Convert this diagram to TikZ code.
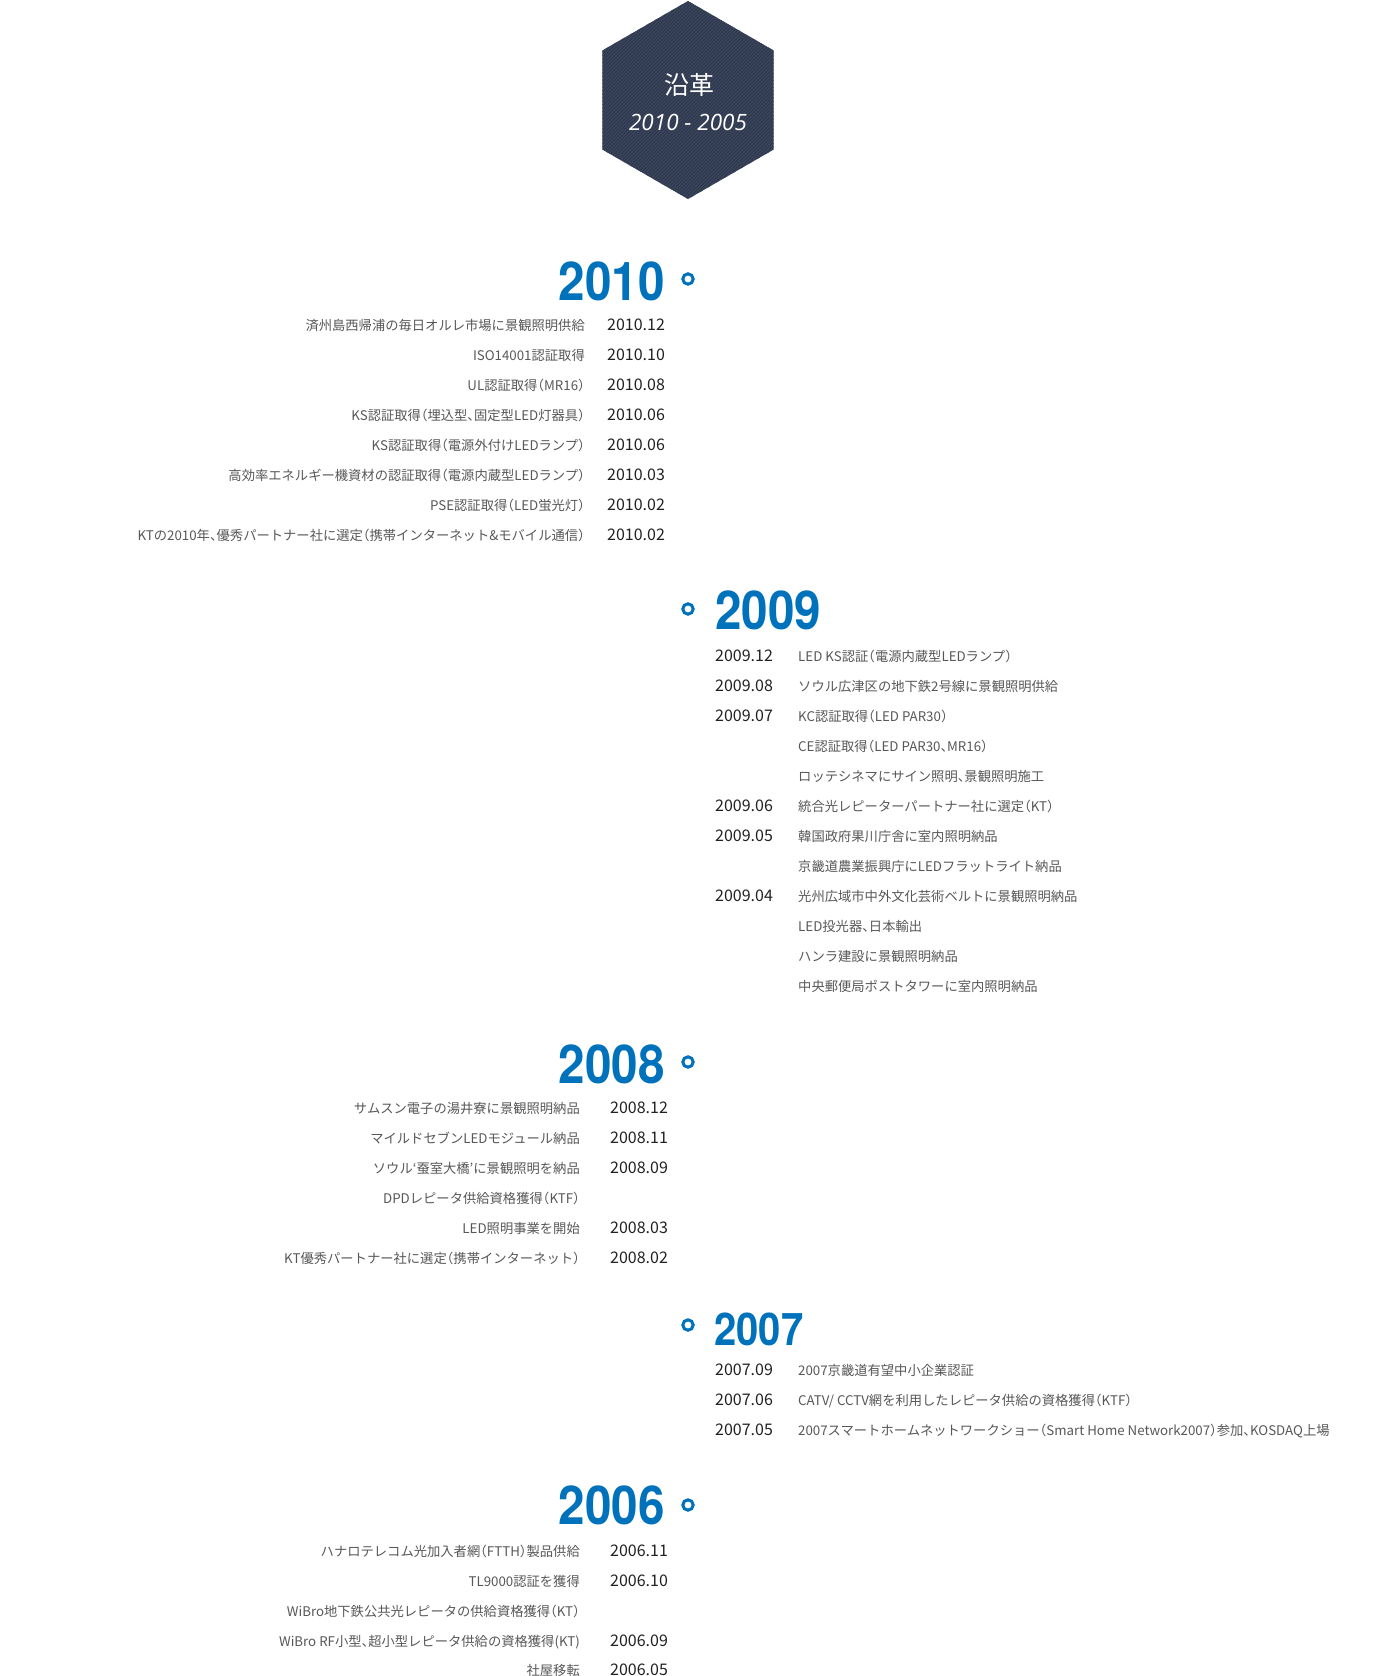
\documentclass[tikz,border=0pt]{standalone}
\usepackage{fontspec}
\setmainfont{Noto Sans CJK JP}[RawFeature=+halt]
\newfontfamily\jpfont{Noto Sans CJK JP}[RawFeature=+halt]
\newfontfamily\numfont{Noto Sans CJK JP}
\newfontfamily\yearfont{TeX Gyre Heros}[FakeStretch=0.89]
\newfontfamily\hexfont{Open Sans}
\definecolor{yearblue}{RGB}{0,114,188}
\definecolor{hexbase}{RGB}{46,56,78}
\definecolor{hexstripe}{RGB}{62,72,93}
\definecolor{desccol}{RGB}{88,88,88}
\definecolor{datecol}{RGB}{34,34,34}
\tikzset{
  desc/.style={inner sep=0pt, text=desccol, font=\jpfont\fontsize{13.3}{16}\selectfont},
  datelbl/.style={inner sep=0pt, text=datecol, font=\numfont\fontsize{16}{19}\selectfont},
  yearL/.style={inner sep=0pt, text=yearblue, font=\yearfont\bfseries\fontsize{53.5}{60}\selectfont, anchor=base east},
  yearR/.style={inner sep=0pt, text=yearblue, font=\yearfont\bfseries\fontsize{53.5}{60}\selectfont, anchor=base west},
  dot/.style={circle, draw=yearblue, fill=white, line width=3pt, minimum size=10.4pt, inner sep=0pt},
}
% left rows: name, baseline y, desc right x, date left x, description, date
\newcommand\LRow[6]{\node[desc,anchor=base east] (#1t) at (#3,#2) {#5};%
  \ifx\relax#6\relax\else\node[datelbl,anchor=base west] (#1d) at (#4,#2) {#6};\fi}
% right rows: name, baseline y, date left x, desc left x, date, description
\newcommand\RRow[6]{\node[desc,anchor=base west] (#1t) at (#4,#2) {#6};%
  \ifx\relax#5\relax\else\node[datelbl,anchor=base west] (#1d) at (#3,#2) {#5};\fi}
\begin{document}
\begin{tikzpicture}[x=1pt,y=-1pt]
\fill[white] (0,0) rectangle (1399,1676);
\useasboundingbox (0,0) rectangle (1399,1676);
% hexagon
\begin{scope}
\clip (688,1) -- (773.7,50.5) -- (773.7,149.5) -- (688,199) -- (602.3,149.5) -- (602.3,50.5) -- cycle;
\fill[hexbase] (598,0) rectangle (778,202);
\foreach \k in {0,3.5,...,392} \draw[hexstripe, line width=0.9pt] (398+\k,204) -- (602+\k,0);
\end{scope}
\node[font=\jpfont\fontsize{25}{28}\selectfont, text=white, inner sep=0pt] (hexTitle) at (689,85) {沿革};
\node[font=\hexfont\itshape\fontsize{22.5}{26}\selectfont, text=white, inner sep=0pt, anchor=base] (hexYears) at (688,130) {2010 - 2005};
% years
\node[yearL] (y2010) at (665,300) {2010};
\node[dot] (c2010) at (688,279) {};
\node[yearR] (y2009) at (715,629) {2009};
\node[dot] (c2009) at (688,609) {};
\node[yearL] (y2008) at (665,1083) {2008};
\node[dot] (c2008) at (688,1062) {};
\node[yearR, font=\yearfont\bfseries\fontsize{45}{50}\selectfont] (y2007) at (714,1345) {2007};
\node[dot] (c2007) at (688,1325) {};
\node[yearL] (y2006) at (665,1524) {2006};
\node[dot] (c2006) at (688,1505) {};
% 2010
\LRow{a1}{330}{585}{607}{済州島西帰浦の毎日オルレ市場に景観照明供給}{2010.12}
\LRow{a2}{360}{585}{607}{ISO14001認証取得}{2010.10}
\LRow{a3}{390}{585}{607}{UL認証取得（MR16）}{2010.08}
\LRow{a4}{420}{585}{607}{KS認証取得（埋込型、固定型LED灯器具）}{2010.06}
\LRow{a5}{450}{585}{607}{KS認証取得（電源外付けLEDランプ）}{2010.06}
\LRow{a6}{480}{585}{607}{高効率エネルギー機資材の認証取得（電源内蔵型LEDランプ）}{2010.03}
\LRow{a7}{510}{585}{607}{PSE認証取得（LED蛍光灯）}{2010.02}
\LRow{a8}{540}{585}{607}{KTの2010年、優秀パートナー社に選定（携帯インターネット\&モバイル通信）}{2010.02}
% 2009
\RRow{b1}{661}{715}{798}{2009.12}{LED KS認証（電源内蔵型LEDランプ）}
\RRow{b2}{691}{715}{798}{2009.08}{ソウル広津区の地下鉄2号線に景観照明供給}
\RRow{b3}{721}{715}{798}{2009.07}{KC認証取得（LED PAR30）}
\RRow{b4}{751}{715}{798}{}{CE認証取得（LED PAR30、MR16）}
\RRow{b5}{781}{715}{798}{}{ロッテシネマにサイン照明、景観照明施工}
\RRow{b6}{811}{715}{798}{2009.06}{統合光レピーターパートナー社に選定（KT）}
\RRow{b7}{841}{715}{798}{2009.05}{韓国政府果川庁舎に室内照明納品}
\RRow{b8}{871}{715}{798}{}{京畿道農業振興庁にLEDフラットライト納品}
\RRow{b9}{901}{715}{798}{2009.04}{光州広域市中外文化芸術ベルトに景観照明納品}
\RRow{b10}{931}{715}{798}{}{LED投光器、日本輸出}
\RRow{b11}{961}{715}{798}{}{ハンラ建設に景観照明納品}
\RRow{b12}{991}{715}{798}{}{中央郵便局ポストタワーに室内照明納品}
% 2008
\LRow{c1}{1113}{580}{610}{サムスン電子の湯井寮に景観照明納品}{2008.12}
\LRow{c2}{1143}{580}{610}{マイルドセブンLEDモジュール納品}{2008.11}
\LRow{c3}{1173}{580}{610}{ソウル‘蚕室大橋’に景観照明を納品}{2008.09}
\LRow{c4}{1203}{580}{610}{DPDレピータ供給資格獲得（KTF）}{}
\LRow{c5}{1233}{580}{610}{LED照明事業を開始}{2008.03}
\LRow{c6}{1263}{580}{610}{KT優秀パートナー社に選定（携帯インターネット）}{2008.02}
% 2007
\RRow{d1}{1375}{715}{798}{2007.09}{2007京畿道有望中小企業認証}
\RRow{d2}{1405}{715}{798}{2007.06}{CATV/ CCTV網を利用したレピータ供給の資格獲得（KTF）}
\RRow{d3}{1435}{715}{798}{2007.05}{2007スマートホームネットワークショー（Smart Home Network2007）参加、KOSDAQ上場}
% 2006
\LRow{e1}{1556}{580}{610}{ハナロテレコム光加入者網（FTTH）製品供給}{2006.11}
\LRow{e2}{1586}{580}{610}{TL9000認証を獲得}{2006.10}
\LRow{e3}{1616}{580}{610}{WiBro地下鉄公共光レピータの供給資格獲得（KT）}{}
\LRow{e4}{1646}{580}{610}{WiBro RF小型、超小型レピータ供給の資格獲得(KT)}{2006.09}
\LRow{e5}{1675}{580}{610}{社屋移転}{2006.05}
\end{tikzpicture}
\end{document}
